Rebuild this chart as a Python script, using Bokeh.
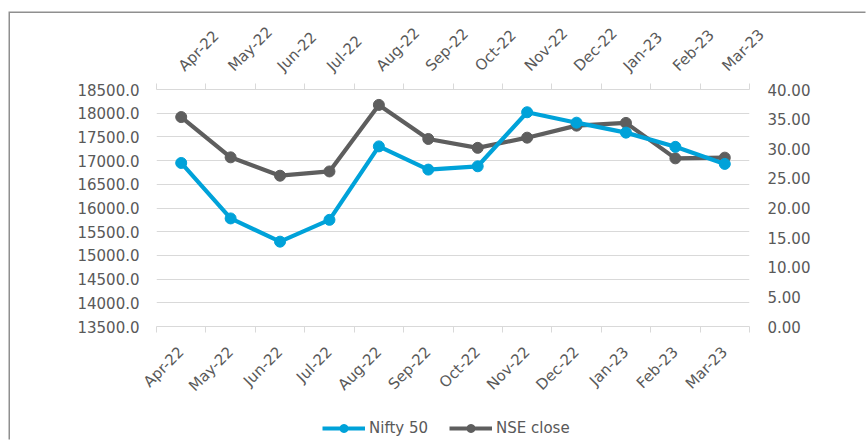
from math import pi
from bokeh.plotting import figure
from bokeh.layouts import column
from bokeh.models import (Range1d, LinearAxis, FixedTicker, NumeralTickFormatter,
                          Legend, LegendItem, ColumnDataSource)
from bokeh.embed import file_html
from bokeh.resources import INLINE

months = ["Apr-22", "May-22", "Jun-22", "Jul-22", "Aug-22", "Sep-22",
          "Oct-22", "Nov-22", "Dec-22", "Jan-23", "Feb-23", "Mar-23"]
nifty_50 = [16950, 15780, 15290, 15750, 17300, 16810, 16880, 18020, 17800, 17590, 17290, 16930]
nse_close = [35.35, 28.55, 25.45, 26.17, 37.40, 31.65, 30.15, 31.87, 33.90, 34.36, 28.38, 28.50]
left_ticks = [13500, 14000, 14500, 15000, 15500, 16000, 16500, 17000, 17500, 18000, 18500]
right_ticks = [0, 5, 10, 15, 20, 25, 30, 35, 40]

BLUE = "#00A2D9"
GRAY = "#5E5E5E"
TXT = "#595959"
GRID = "#D9D9D9"
FONT = "DejaVu Sans"
FS = "15px"

n = len(months)
xs = [i + 0.5 for i in range(n)]
src = ColumnDataSource(dict(x=xs, nifty=nifty_50, nse=nse_close, month=months))

p = figure(width=857, height=394, output_backend="svg", toolbar_location=None,
           x_range=Range1d(0, n), y_range=Range1d(left_ticks[0], left_ticks[-1]),
           x_axis_location=None, y_axis_location=None,
           min_border_left=146, min_border_right=118, min_border_top=71, min_border_bottom=81)
p.outline_line_color = None
p.background_fill_color = "white"
p.border_fill_color = "white"
p.extra_y_ranges = {"right": Range1d(right_ticks[0], right_ticks[-1])}

p.xgrid.visible = False
p.ygrid.ticker = FixedTicker(ticks=left_ticks)
p.ygrid.grid_line_color = GRID
p.ygrid.grid_line_width = 1


def style_axis(ax):
    ax.major_label_text_font = FONT
    ax.major_label_text_font_size = FS
    ax.major_label_text_color = TXT
    ax.major_tick_in = 0
    ax.major_tick_out = 0
    ax.minor_tick_in = 0
    ax.minor_tick_out = 0


ly = LinearAxis(ticker=FixedTicker(ticks=left_ticks), formatter=NumeralTickFormatter(format="0.0"))
style_axis(ly)
ly.axis_line_color = None
ly.major_label_standoff = 17
p.add_layout(ly, "left")

ry = LinearAxis(y_range_name="right", ticker=FixedTicker(ticks=right_ticks),
                formatter=NumeralTickFormatter(format="0.00"))
style_axis(ry)
ry.axis_line_color = None
ry.major_label_standoff = 18
p.add_layout(ry, "right")

overrides = {x: m for x, m in zip(xs, months)}
for side, standoff in (("below", 17), ("above", 15)):
    ax = LinearAxis(ticker=FixedTicker(ticks=xs, minor_ticks=list(range(n + 1))))
    style_axis(ax)
    ax.major_label_overrides = overrides
    ax.major_label_orientation = pi / 4
    ax.major_label_standoff = standoff
    ax.axis_line_color = GRID
    ax.minor_tick_out = 6
    ax.minor_tick_line_color = GRID
    p.add_layout(ax, side)

p.line("x", "nse", source=src, y_range_name="right", line_color=GRAY, line_width=4.2)
p.scatter("x", "nse", source=src, y_range_name="right", size=11, fill_color=GRAY, line_color=GRAY)
p.line("x", "nifty", source=src, line_color=BLUE, line_width=4.2)
p.scatter("x", "nifty", source=src, size=11, fill_color=BLUE, line_color=BLUE)

# legend strip (separate canvas below the chart)
lf = figure(width=857, height=34, output_backend="svg", toolbar_location=None,
            x_range=Range1d(-100, -99), y_range=Range1d(-100, -99),
            x_axis_location=None, y_axis_location=None, min_border=0)
lf.outline_line_color = None
lf.grid.visible = False
lf.background_fill_color = "white"
lf.border_fill_color = "white"
l1 = lf.line("x", "nifty", source=src, line_color=BLUE, line_width=4.2)
m1 = lf.scatter("x", "nifty", source=src, size=11, fill_color=BLUE, line_color=BLUE)
l2 = lf.line("x", "nse", source=src, line_color=GRAY, line_width=4.2)
m2 = lf.scatter("x", "nse", source=src, size=11, fill_color=GRAY, line_color=GRAY)

legend = Legend(items=[LegendItem(label="Nifty 50", renderers=[l1, m1]),
                       LegendItem(label="NSE close", renderers=[l2, m2])],
                orientation="horizontal", location=(166, 3))
legend.border_line_color = None
legend.background_fill_alpha = 0
legend.padding = 0
legend.margin = 0
legend.spacing = 21
legend.glyph_width = 43
legend.label_standoff = 4
legend.label_text_font = FONT
legend.label_text_font_size = FS
legend.label_text_color = TXT
lf.add_layout(legend)

layout = column(p, lf, spacing=0)
layout.margin = (13, 0, 0, 10)
layout.styles = {"box-shadow": "-1.5px -1.5px 0px 0px #8F8F8F"}
open("out.html", "w").write(file_html(layout, INLINE))
